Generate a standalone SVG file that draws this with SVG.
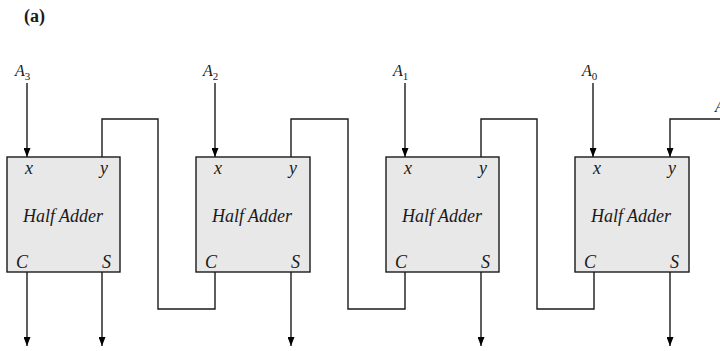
<svg xmlns="http://www.w3.org/2000/svg" width="720" height="351" viewBox="0 0 720 351">
<defs>
<marker id="ah" viewBox="0 0 9 7" refX="9" refY="3.5" markerWidth="9" markerHeight="7" markerUnits="userSpaceOnUse" orient="auto">
<path d="M0,0 L9,3.5 L0,7 Z" fill="#000"/>
</marker>
</defs>
<text x="24" y="22" font-family="Liberation Serif" font-weight="bold" font-size="18" fill="#1a1a1a">(a)</text>
<g id="connectors" fill="none" stroke="#1a1a1a" stroke-width="1.4">
<path marker-end="url(#ah)" d="M27,83 V157"/>
<path marker-end="url(#ah)" d="M215,83 V157"/>
<path marker-end="url(#ah)" d="M405,83 V157"/>
<path marker-end="url(#ah)" d="M593,83 V157"/>
<path d="M102,157 V119 H158 V309 H215 V272"/>
<path d="M291,157 V119 H348 V309 H405 V272"/>
<path d="M481,157 V119 H537 V309 H594 V272"/>
<path marker-end="url(#ah)" d="M720,119 H670 V157"/>
<path marker-end="url(#ah)" d="M27,272 V346"/>
<path marker-end="url(#ah)" d="M102,272 V346"/>
<path marker-end="url(#ah)" d="M291,272 V346"/>
<path marker-end="url(#ah)" d="M481,272 V346"/>
<path marker-end="url(#ah)" d="M670,272 V346"/>
</g>
<g id="labels" fill="#1a1a1a" font-family="Liberation Serif" font-style="italic" font-size="16">
<text x="15" y="76">A<tspan font-size="11" font-style="normal" dy="4">3</tspan></text>
<text x="203" y="76">A<tspan font-size="11" font-style="normal" dy="4">2</tspan></text>
<text x="393" y="76">A<tspan font-size="11" font-style="normal" dy="4">1</tspan></text>
<text x="582" y="76">A<tspan font-size="11" font-style="normal" dy="4">0</tspan></text>
<text x="715" y="112">A</text>
</g>
<g id="ha3" fill="#1a1a1a" font-family="Liberation Serif" font-style="italic" font-size="18">
<rect x="7" y="157" width="113" height="115" fill="#e8e8e8" stroke="#1a1a1a" stroke-width="1.4"/>
<text x="29" y="174" text-anchor="middle">x</text>
<text x="104" y="174" text-anchor="middle">y</text>
<text x="63" y="222" text-anchor="middle">Half Adder</text>
<text x="16" y="268">C</text>
<text x="111" y="268" text-anchor="end">S</text>
</g>
<g id="ha2" fill="#1a1a1a" font-family="Liberation Serif" font-style="italic" font-size="18">
<rect x="196" y="157" width="114" height="115" fill="#e8e8e8" stroke="#1a1a1a" stroke-width="1.4"/>
<text x="218" y="174" text-anchor="middle">x</text>
<text x="293" y="174" text-anchor="middle">y</text>
<text x="252" y="222" text-anchor="middle">Half Adder</text>
<text x="205" y="268">C</text>
<text x="300" y="268" text-anchor="end">S</text>
</g>
<g id="ha1" fill="#1a1a1a" font-family="Liberation Serif" font-style="italic" font-size="18">
<rect x="386" y="157" width="113" height="115" fill="#e8e8e8" stroke="#1a1a1a" stroke-width="1.4"/>
<text x="408" y="174" text-anchor="middle">x</text>
<text x="483" y="174" text-anchor="middle">y</text>
<text x="442" y="222" text-anchor="middle">Half Adder</text>
<text x="395" y="268">C</text>
<text x="490" y="268" text-anchor="end">S</text>
</g>
<g id="ha0" fill="#1a1a1a" font-family="Liberation Serif" font-style="italic" font-size="18">
<rect x="575" y="157" width="114" height="115" fill="#e8e8e8" stroke="#1a1a1a" stroke-width="1.4"/>
<text x="597" y="174" text-anchor="middle">x</text>
<text x="672" y="174" text-anchor="middle">y</text>
<text x="631" y="222" text-anchor="middle">Half Adder</text>
<text x="584" y="268">C</text>
<text x="679" y="268" text-anchor="end">S</text>
</g>
</svg>
